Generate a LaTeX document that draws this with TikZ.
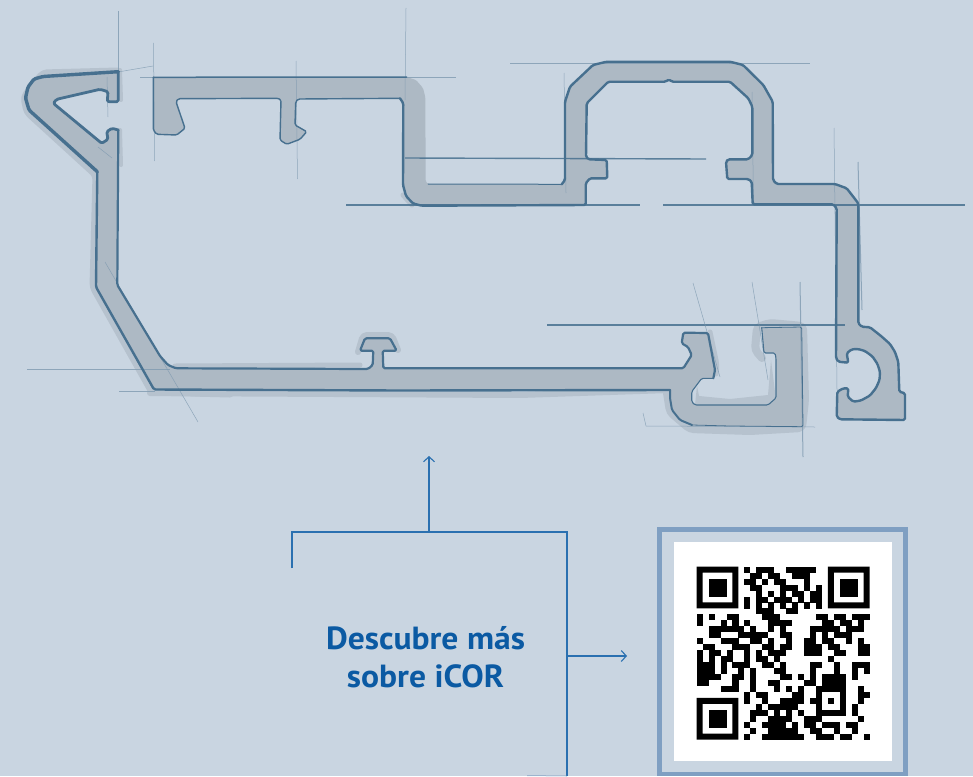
\documentclass[tikz,border=0pt]{standalone}
\usepackage{fontspec}
\setmainfont{PT Sans}
\usetikzlibrary{arrows.meta}
\definecolor{bg}{HTML}{C9D5E1}
\definecolor{prof}{HTML}{ADB9C4}
\definecolor{smudge}{HTML}{B6C2CE}
\definecolor{ink}{HTML}{47708F}
\definecolor{faint}{HTML}{7F9AB0}
\definecolor{conn}{HTML}{2A70B0}
\definecolor{txt}{HTML}{0B5AA3}
\definecolor{frame}{HTML}{7F9FC2}
\newcount\qrc
\newcount\qrr
\def\qrscan#1{\ifx#1.\else
  \if#11\fill (696.7+\the\qrc*5.96,566.7+\the\qrr*5.96) rectangle +(6.06,6.06);\fi
  \advance\qrc by 1 \expandafter\qrscan\fi}
\def\qrrow#1{\qrc=0 \qrscan#1.\advance\qrr by 1 }
% profile A pieces
\def\Aa{(118.3,71.7) -- (43,76.5) -- (34,79) -- (28,87) -- (25.5,98) -- (29,110) -- (97.3,171.7)}
\def\Ab{-- (96,287) -- (154,389.5) -- (400,390.5) -- (670,390)}
\def\Ac{-- (670,398) -- (672,410) -- (680,420) -- (692,425)}
\def\Ad{-- (730,426) -- (803,426.7) -- (801.7,327) -- (761.7,327.7)}
\def\Ae{-- (764,353) -- (775,353) -- (776,358) -- (776,398) -- (768,405) -- (695,405) -- (691.7,401.7) -- (691.7,391.7) -- (701.7,378.3) -- (713.3,378.3)}
\def\Af{-- (715,370) -- (708,333) -- (683.3,332.7) -- (681.7,343.3) -- (688,347) -- (691.7,355) -- (683.3,368.3) -- (383.3,368.3) -- (382.7,350.7) -- (396.7,350.7) -- (390,338.3) -- (365,338.3) -- (360,350.7) -- (373.3,350.7) -- (372.7,365) -- (368,369) -- (176,368.3) -- (168,365) -- (160,356) -- (117.3,285) -- (118.3,130)}
\def\Ag{-- (112,128.3) -- (106.7,131.7) -- (108,139.3) -- (101.7,143.3) -- (53.3,103.3) -- (56.7,99.3) -- (100,89.3) -- (108,91.7) -- (107.3,101.7) -- (118.3,101.7) -- (118.3,71.7)}
% profile B pieces
\def\Ba{(153.3,77.3) -- (406.7,77)}
\def\Bb{-- (416,80) -- (423,88) -- (425.3,97) -- (425.7,181.7)}
\def\Bc{-- (428,184) -- (561.7,184.3)}
\def\Bd{-- (565,180) -- (565,101.7) -- (570,86.7) -- (593,65) -- (606.7,61.7) -- (730,61.7) -- (743,65) -- (763.3,85) -- (772.7,101.7) -- (773,180) -- (776.7,184) -- (835,184) -- (846.7,188.3) -- (858.3,203.3) -- (858.3,323.3) -- (861.7,326.7) -- (870,327.3) -- (881,336) -- (890,344) -- (895,352) -- (898.3,362) -- (899.3,391.7) -- (905,393.3) -- (905,420) -- (840,419.3) -- (836.7,416.7) -- (837.3,391.7) -- (843.3,388.3) -- (848.3,388.3) -- (847.7,396.7) -- (853.3,401.7) -- (861,400.5) -- (870,395.5) -- (876,388) -- (879.5,380) -- (880,372) -- (877.5,364) -- (872.5,356.5) -- (865,351) -- (858,349) -- (851.7,349.3) -- (846.7,353.3) -- (848.3,362.7) -- (838.3,361.7) -- (836,358) -- (836.7,208.3) -- (833.3,204.3) -- (752.7,204.3) -- (751.7,181.7) -- (748.3,179) -- (727.3,179) -- (726,161.7) -- (728.3,159.3) -- (748.3,159.3) -- (752.3,155) -- (752.3,106.7) -- (748.3,98.3) -- (730,81.7) -- (671.7,81.7) -- (669,79.3) -- (665.7,81.7) -- (608.3,81.7) -- (586.7,103.3) -- (586,156.7) -- (588.3,159.3) -- (606.7,160) -- (607.3,178.3) -- (590,178.3) -- (585.7,183.3) -- (585.7,205) -- (421.7,205.7) -- (413,203.5) -- (406,196) -- (403,185) -- (403.3,103.3) -- (400,98.3)}
\def\Be{-- (298.3,99) -- (295.7,101.7) -- (295,125) -- (306.7,131.7) -- (300,139.3) -- (286.7,144.3) -- (280,140) -- (281,100) -- (278.3,98.3) -- (178.3,98.7) -- (176,101.7) -- (185,128.3) -- (176.7,135) -- (156.7,134.3) -- (153.3,130) -- (153.3,77.3)}
\begin{document}
\begin{tikzpicture}[x=1pt,y=-1pt,
  rc/.style={rounded corners=1.5pt},
  ln/.style={ink,line join=round,line cap=round,rc},
  smear/.style={smudge,line join=round,line cap=round,rounded corners=4pt},
  guide/.style={faint,line width=0.5pt,opacity=.8},
  guideb/.style={ink,line width=1.4pt,opacity=.85},
  conline/.style={conn,line width=1.2pt},
  tipped/.style={conline,-{Straight Barb[length=5pt,width=11pt,line width=1.1pt]}}]
\useasboundingbox (0,0) rectangle (973,776);
\fill[bg] (0,0) rectangle (973,776);
\clip (0,0) rectangle (973,776);
% smudges
\draw[smear,line width=7pt] (118,71) -- (43,73) -- (24,97) -- (27,112) -- (96,175) -- (93,287) -- (152,392) -- (230,394);
\draw[smear,line width=6pt] (150,393) -- (520,395) -- (670,390);
\draw[smear,line width=5pt] (175,366) -- (360,365);
\draw[smear,line width=6pt] (358,352) -- (363,335) -- (392,335) -- (398,350);
\draw[smear,line width=4pt] (120,70) -- (121,100);
\draw[smear,line width=4pt] (120,130) -- (121,165);
\draw[smear,line width=5pt] (403,195) -- (412,205);
\draw[smear,line width=8pt] (667,393) -- (670,412) -- (690,429) -- (750,431) -- (802,428) -- (805,400) -- (803,326) -- (770,323) -- (757,327) -- (755,350) -- (762,358);
\draw[smear,line width=5pt] (710,332) -- (717,365) -- (716,374);
\fill[smudge] (697,386) -- (699,396) -- (730,399) -- (768,395) -- (771,360) -- (776,400) -- (768,405) -- (695,405) -- cycle;
% profile fills
\fill[prof,rc] \Aa \Ab \Ac \Ad \Ae \Af \Ag -- cycle;
\fill[prof,rc] \Ba \Bb \Bc \Bd \Be -- cycle;
% construction lines
\coordinate (h1a) at (346,205); \coordinate (h1b) at (640,205);
\coordinate (h2a) at (663,205); \coordinate (h2b) at (965,205);
\coordinate (h3a) at (405,158); \coordinate (h3b) at (706,159);
\coordinate (h4a) at (510,63); \coordinate (h4b) at (810,63);
\coordinate (h5a) at (547,325); \coordinate (h5b) at (845,325);
\coordinate (h6a) at (27,369); \coordinate (h6b) at (170,369);
\coordinate (h7a) at (119,391); \coordinate (h7b) at (155,391);
\coordinate (h8a) at (140,77); \coordinate (h8b) at (456,77);
\foreach \a/\b in {h1a/h1b,h2a/h2b,h3a/h3b,h5a/h5b} \draw[guideb] (\a) -- (\b);
\foreach \a/\b in {h4a/h4b,h6a/h6b,h7a/h7b,h8a/h8b} \draw[guide,line width=.8pt] (\a) -- (\b);
\draw[guide] (118,11) -- (118,72);
\draw[guide] (153.5,43) -- (154.5,161);
\draw[guide] (296,61) -- (297.5,179);
\draw[guide] (406,8) -- (405,100);
\draw[guide] (564,73) -- (566,193);
\draw[guide] (752,92) -- (753.5,203);
\draw[guide] (834,128) -- (837,390);
\draw[guide,line width=1pt] (858,162) -- (862,310);
\draw[guide,line width=1pt] (800,282) -- (803,457);
\draw[guide] (693,283) -- (720,377);
\draw[guide] (752,282) -- (768,380);
\draw[guide] (643,413) -- (646,426) -- (815,427);
\draw[guide] (105,262) -- (198,422);
\draw[guide] (118,72) -- (153,66);
\draw[guide] (98,147) -- (112,158);
\draw[guide] (107,77) -- (108,117);
% strokes of profile A
\draw[ln,line width=3.4pt] \Aa;
\draw[ln,line width=2.4pt] (97.3,171.7) \Ab;
\draw[ln,line width=2pt] (670,390) \Ac;
\draw[ln,line width=.8pt] (692,425) \Ad;
\draw[ln,line width=1.1pt] (761.7,327.7) \Ae;
\draw[ln,line width=2.2pt] (713.3,378.3) \Af;
\draw[ln,line width=2.8pt] (118.3,130) \Ag;
% strokes of profile B
\draw[ln,line width=1.5pt] \Ba;
\draw[ln,line width=1pt] (428,184) -- (561.7,184.3);
\draw[ln,line width=2.4pt] (561.7,184.3) \Bd;
\draw[ln,line width=1.4pt] (400,98.3) \Be;
% connectors
\coordinate (c0) at (292,568);
\coordinate (c1) at (292,532);
\coordinate (c2) at (567,532);
\coordinate (c3) at (567,776);
\coordinate (c4) at (429,532);
\coordinate (c5) at (429,456);
\coordinate (c6) at (567,656);
\coordinate (c7) at (627,656);
\draw[conline] (c0) -- (c1) -- (c2) -- (c3);
\draw[tipped] (c4) -- (c5);
\draw[tipped] (c6) -- (c7);
\draw[frame,line width=1pt,opacity=.6] (527,775.5) -- (c3);
\node[text=txt,font=\fontsize{32}{38.6}\selectfont\bfseries,align=center,inner sep=0pt,anchor=center,xscale=1.05] (label) at (425.5,657) {Descubre más\\sobre iCOR};
% QR
\draw[frame,line width=4.7pt] (659.7,529.7) rectangle (905.7,774);
\fill[white] (674,542) rectangle (892,761);
\foreach \fx/\fy in {0/0,22/0,0/22}{
  \fill[black,even odd rule] (696.7+\fx*5.96,566.7+\fy*5.96) rectangle +(41.72,41.72)
     (696.7+\fx*5.96+5.96,566.7+\fy*5.96+5.96) rectangle +(29.8,29.8);
  \fill[black] (696.7+\fx*5.96+11.92,566.7+\fy*5.96+11.92) rectangle +(17.88,17.88);
}
\qrr=0
\qrrow{00000000 1011100111110 00000000}
\qrrow{00000000 0110110011100 00000000}
\qrrow{00000000 1101011000100 00000000}
\qrrow{00000000 0110001110101 00000000}
\qrrow{00000000 0010101011011 00000000}
\qrrow{00000000 1011011101011 00000000}
\qrrow{00000000 1010101010101 00000000}
\qrrow{00000000 0011100110000 00000000}
\qrrow{10100110000111000000110110111}
\qrrow{10001010100011110000011011010}
\qrrow{00111111010010100001111101110}
\qrrow{00110001111100110001010111000}
\qrrow{10001110011010010011011001010}
\qrrow{01100011100110110011101100011}
\qrrow{10110100101011100011100110011}
\qrrow{10101100101101000000001000000}
\qrrow{11101011100110100001100100111}
\qrrow{11101001010001100001000100101}
\qrrow{11110011010000110101011110100}
\qrrow{11000010010011000011011110000}
\qrrow{00001110010001010100111110010}
\qrrow{00000000101100001100100010011}
\qrrow{00000000100100111101101010010}
\qrrow{00000000001011111000100010100}
\qrrow{00000000011101010100111110100}
\qrrow{00000000010011110011100000010}
\qrrow{00000000100111101011011101100}
\qrrow{00000000010011111001100100100}
\qrrow{00000000100111111100111011001}
\end{tikzpicture}
\end{document}
